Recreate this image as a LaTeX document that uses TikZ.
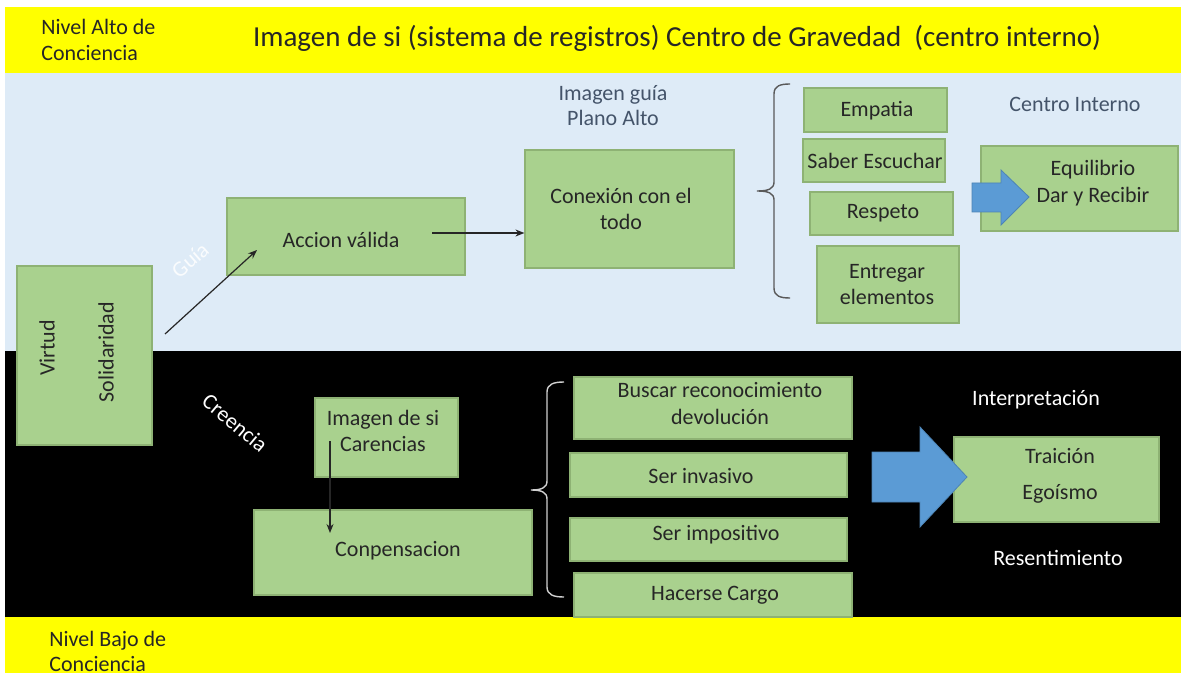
\documentclass[tikz,border=0pt]{standalone}
\usepackage{fontspec}
\setmainfont{Carlito}
\usetikzlibrary{fit,arrows.meta}
\definecolor{yel}{HTML}{FFFF00}
\definecolor{lblue}{HTML}{DEEBF7}
\definecolor{bgreen}{HTML}{A9D18E}
\definecolor{bline}{HTML}{8EB274}
\definecolor{txt}{HTML}{262626}
\definecolor{slate}{HTML}{44546A}
\definecolor{arrblue}{HTML}{5B9BD5}
\definecolor{braceup}{HTML}{595959}
\definecolor{bracelo}{HTML}{D0D0D0}
\begin{document}
\begin{tikzpicture}[x=0.5pt,y=-0.5pt,
  box/.style={draw=bline, fill=bgreen, line width=0.6pt, inner sep=0pt, rectangle},
  btxt/.style={text=txt, font=\fontsize{11}{13.5}\selectfont, align=center, inner sep=0pt},
  wtxt/.style={text=white, font=\fontsize{11}{13.5}\selectfont, align=center, inner sep=0pt},
  stxt/.style={text=slate, font=\fontsize{11}{12.5}\selectfont, align=center, inner sep=0pt},
  conn/.style={draw=txt, line width=0.6pt, -{Stealth[length=4.5pt,width=3.5pt]}},
  bigarrow/.style={fill=arrblue, draw=arrblue!85!black, line width=0.4pt},
  bracestyle/.style={line width=0.7pt}
]
\useasboundingbox (0,0) rectangle (1181,673);
% bands
\fill[white] (0,0) rectangle (1181,673);
\fill[yel] (5,7) rectangle (1181,73);
\fill[lblue] (5,73) rectangle (1181,351);
\fill[black] (5,351) rectangle (1181,617);
\fill[yel] (5,617) rectangle (1181,673);

% top band texts
\node[btxt, anchor=west, align=left, font=\fontsize{11}{13}\selectfont] (alto) at (41,40) {Nivel Alto de\\Conciencia};
\node[btxt, font=\fontsize{14.5}{17}\selectfont] (title) at (677,38) {Imagen de si (sistema de registros) Centro de Gravedad \ (centro interno)};

% upper region
\node[box, fit={(17,266) (152,445)}] (virtud) {};
\node[btxt, rotate=90] (virtudT) at (47,348) {Virtud};
\node[btxt, rotate=90] (solT) at (106,352) {Solidaridad};

\node[box, fit={(227,198) (465,275)}] (accion) {};
\node[btxt] (accionT) at (341,240) {Accion válida};

\node[box, fit={(525,150) (734,268)}] (conex) {};
\node[btxt, font=\fontsize{11}{13}\selectfont] (conexT) at (621,209) {Conexión con el\\todo};

\node[stxt] (guiaimg) at (613,106) {Imagen guía\\Plano Alto};
\node[wtxt, rotate=41, opacity=0.85] (guia) at (190,260) {Guía};

\coordinate (g0) at (165,334);
\coordinate (g1) at (257,250);
\draw[conn] (g0) -- (g1);
\coordinate (a0) at (432,233);
\draw[conn] (a0) -- (a0 -| conex.west);

% upper brace
\draw[braceup, bracestyle] (790,84) .. controls (780,84) and (774,86) .. (774,94) -- (774,182)
  .. controls (774,189) and (768,191) .. (757,191) .. controls (768,191) and (774,193) .. (774,200)
  -- (774,288) .. controls (774,296) and (780,298) .. (790,298);

\node[box, fit={(804,88) (947,132)}] (empatia) {};
\node[btxt] (empatiaT) at (877,111) {Empatia};
\node[box, fit={(803,139) (945,182)}] (saber) {};
\node[btxt] (saberT) at (875,161) {Saber Escuchar};
\node[box, fit={(810,192) (953,235)}] (respeto) {};
\node[btxt] (respetoT) at (883,213) {Respeto};
\node[box, fit={(817,246) (959,323)}] (entregar) {};
\node[btxt, font=\fontsize{11}{13}\selectfont] (entregarT) at (887,285) {Entregar\\elementos};

\node[stxt] (centro) at (1075,104) {Centro Interno};
\node[box, fit={(981,146) (1178,231)}] (equil) {};
\node[btxt] (equilT) at (1093,183) {Equilibrio\\Dar y Recibir};
\fill[bigarrow] (972,183) -- (1001,183) -- (1001,170) -- (1029,197) -- (1001,225) -- (1001,212) -- (972,212) -- cycle;

% lower region
\node[wtxt, rotate=-40] (creencia) at (235,423) {Creencia};
\node[box, fit={(315,398) (458,477)}] (imagen) {};
\node[btxt, font=\fontsize{11}{13}\selectfont] (imagenT) at (383,431) {Imagen de si\\Carencias};
\node[box, fit={(254,510) (532,595)}] (conpens) {};
\node[btxt] (conpensT) at (398,551) {Conpensacion};
\coordinate (c0) at (330,441);
\coordinate (c1) at (330,533);
\draw[conn] (c0) -- (c1);

% lower brace
\draw[bracelo, bracestyle] (564,382) .. controls (554,382) and (547,384) .. (547,392) -- (547,481)
  .. controls (547,488) and (541,490) .. (531,490) .. controls (541,490) and (547,492) .. (547,499)
  -- (547,587) .. controls (547,595) and (554,597) .. (564,597);

\node[box, fit={(574,377) (852,439)}] (buscar) {};
\node[btxt] (buscarT) at (720,404) {Buscar reconocimiento\\devolución};
\node[box, fit={(570,453) (847,497)}] (invasivo) {};
\node[btxt] (invasivoT) at (701,476) {Ser invasivo};
\node[box, fit={(570,518) (847,561)}] (impositivo) {};
\node[btxt] (impositivoT) at (716,535) {Ser impositivo};
\node[box, fit={(574,573) (852,617)}] (cargo) {};
\node[btxt] (cargoT) at (715,595) {Hacerse Cargo};

\node[wtxt] (interp) at (1036,400) {Interpretación};
\node[box, fit={(954,437) (1159,522)}] (traicion) {};
\node[btxt, font=\fontsize{11}{18}\selectfont] (traicionT) at (1060,476) {Traición\\Egoísmo};
\node[wtxt] (resent) at (1058,558) {Resentimiento};
\fill[bigarrow] (872,452) -- (920,452) -- (920,427) -- (967,477) -- (920,527) -- (920,502) -- (872,502) -- cycle;

% bottom band
\node[btxt, anchor=west, align=left, font=\fontsize{11}{12.5}\selectfont] (bajo) at (49,651) {Nivel Bajo de\\Conciencia};
\end{tikzpicture}
\end{document}
